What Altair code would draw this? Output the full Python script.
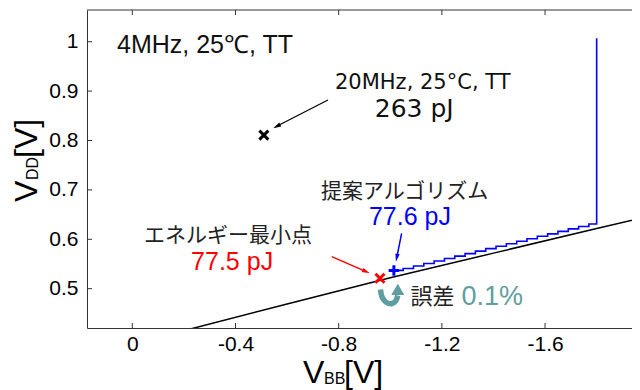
import math
import altair as alt
import pandas as pd

# ---------------- data ----------------
x_ticks = [0, -0.4, -0.8, -1.2, -1.6]
y_ticks = [0.5, 0.6, 0.7, 0.8, 0.9, 1.0]

# minimum-energy locus (black)
curve_vbb = [-0.2, -0.6, -1.0, -1.4, -1.8, -2.0]
curve_vdd = [0.415, 0.469, 0.522, 0.572, 0.622, 0.646]

# proposed algorithm search path (blue staircase)
algo_vbb = [-1.014, -1.05, -1.09, -1.13, -1.17, -1.21, -1.25, -1.29, -1.33, -1.37,
            -1.41, -1.45, -1.49, -1.53, -1.57, -1.61, -1.65, -1.69, -1.73, -1.77,
            -1.80, -1.80]
algo_vdd = [0.537, 0.541, 0.546, 0.551, 0.556, 0.561, 0.566, 0.571, 0.576, 0.581,
            0.586, 0.591, 0.596, 0.601, 0.606, 0.611, 0.616, 0.621, 0.626, 0.631,
            0.634, 1.007]

pt_20mhz = (-0.51, 0.811)
pt_min = (-0.960, 0.521)
pt_algo = (-1.014, 0.537)

# curved "error" arrow path
err_vbb = [-0.962, -0.9690, -0.9853, -1.0050, -1.0210, -1.0290]
err_vdd = [0.4984, 0.4822, 0.4721, 0.4695, 0.4751, 0.4862]
err_head = (-1.0290, 0.4984)

# ---------------- geometry ----------------
W, H = 545, 318
X_DOM = [-1.937, 0.1756]
Y_DOM = [0.4204, 1.0642]
PX = W / (X_DOM[1] - X_DOM[0])
PY = H / (Y_DOM[1] - Y_DOM[0])

xs = alt.Scale(domain=X_DOM, reverse=True, nice=False, zero=False)
ys = alt.Scale(domain=Y_DOM, nice=False, zero=False)

AX_COL = "#333333"
x_axis = alt.Axis(values=x_ticks, labelExpr="'' + datum.value", ticks=False, tickSize=0,
                  labelPadding=22, labelBaseline="alphabetic", grid=False,
                  domainColor=AX_COL, labelFont="Liberation Sans", labelFontSize=21,
                  labelColor="black", title=None)
y_axis = alt.Axis(values=y_ticks, labelExpr="'' + datum.value", ticks=False, tickSize=0,
                  labelPadding=9, grid=False, domainColor=AX_COL,
                  labelFont="Liberation Sans", labelFontSize=21, labelColor="black",
                  title=None)


def X(f):
    return alt.X(f + ":Q", scale=xs, axis=x_axis)


def Y(f):
    return alt.Y(f + ":Q", scale=ys, axis=y_axis)


layers = []

# black curve (carries axes)
curve_df = pd.DataFrame({"x": curve_vbb, "y": curve_vdd, "i": range(len(curve_vbb))})
layers.append(alt.Chart(curve_df).mark_line(color="black", strokeWidth=1.5, clip=True)
              .encode(x=X("x"), y=Y("y"), order=alt.Order("i:Q")))

# blue staircase
algo_df = pd.DataFrame({"x": algo_vbb, "y": algo_vdd, "i": range(len(algo_vbb))})
layers.append(alt.Chart(algo_df).mark_line(color="#0000ff", strokeWidth=1.6,
                                           interpolate="step-after", clip=True)
              .encode(x=X("x"), y=Y("y"), order=alt.Order("i:Q")))

# frame: top line + inward ticks
dummy = pd.DataFrame({"a": [0]})
layers.append(alt.Chart(dummy).mark_rule(color=AX_COL, strokeWidth=1)
              .encode(x=alt.value(0), x2=alt.value(W), y=alt.value(0)))
xt_df = pd.DataFrame({"x": x_ticks})
layers.append(alt.Chart(xt_df).mark_rule(color=AX_COL)
              .encode(x=X("x"), y=alt.value(H), y2=alt.value(H - 5)))
layers.append(alt.Chart(xt_df).mark_rule(color=AX_COL)
              .encode(x=X("x"), y=alt.value(0), y2=alt.value(5)))
yt_df = pd.DataFrame({"y": y_ticks})
layers.append(alt.Chart(yt_df).mark_rule(color=AX_COL)
              .encode(y=Y("y"), x=alt.value(0), x2=alt.value(5)))

# markers
X_SHAPE = "M-1,-1L1,1M-1,1L1,-1"
P_SHAPE = "M-1,0L1,0M0,-1L0,1"


def marker(pt, shape, color, size):
    df = pd.DataFrame({"x": [pt[0]], "y": [pt[1]]})
    return (alt.Chart(df).mark_point(shape=shape, filled=False, color=color, size=size,
                                     strokeWidth=3, opacity=1)
            .encode(x=X("x"), y=Y("y")))


layers.append(marker(pt_20mhz, X_SHAPE, "black", 81))
layers.append(marker(pt_min, X_SHAPE, "#ff0000", 81))
layers.append(marker(pt_algo, P_SHAPE, "#0000ff", 110))

# straight arrows
HEAD = "M0,-1L0.55,1L-0.55,1Z"


def arrow(tail, tip, color, width, head_size):
    dxp = -(tip[0] - tail[0]) * PX
    dyp = -(tip[1] - tail[1]) * PY
    L = math.hypot(dxp, dyp)
    ux, uy = dxp / L, dyp / L
    half = math.sqrt(head_size) / 2
    cx = tip[0] + ux * half / PX
    cy = tip[1] + uy * half / PY
    ang = math.degrees(math.atan2(ux, -uy)) % 360
    ldf = pd.DataFrame({"x": [tail[0], cx], "y": [tail[1], cy], "i": [0, 1]})
    hdf = pd.DataFrame({"x": [cx], "y": [cy], "a": [ang]})
    line = (alt.Chart(ldf).mark_line(color=color, strokeWidth=width)
            .encode(x=X("x"), y=Y("y"), order=alt.Order("i:Q")))
    head = (alt.Chart(hdf).mark_point(shape=HEAD, filled=True, color=color, size=head_size,
                                      opacity=1, strokeWidth=0)
            .encode(x=X("x"), y=Y("y"), angle=alt.Angle("a:Q", scale=None)))
    return [line, head]


layers += arrow((-0.7585, 0.882), (-0.546, 0.825), "black", 1.2, 64)
layers += arrow((-0.773, 0.565), (-0.921, 0.5313), "#ff0000", 1.5, 64)
layers += arrow((-1.044, 0.612), (-1.022, 0.5547), "#0000ff", 1.5, 64)

# curved teal arrow
TEAL = "#5f9ea0"
err_df = pd.DataFrame({"x": err_vbb, "y": err_vdd, "i": range(len(err_vbb))})
layers.append(alt.Chart(err_df).mark_line(color=TEAL, strokeWidth=5.5, interpolate="catmull-rom")
              .encode(x=X("x"), y=Y("y"), order=alt.Order("i:Q")))
eh_df = pd.DataFrame({"x": [err_head[0]], "y": [err_head[1]]})
layers.append(alt.Chart(eh_df).mark_point(shape="triangle-up", filled=True, color=TEAL,
                                          size=170, opacity=1, strokeWidth=0)
              .encode(x=X("x"), y=Y("y")))

# annotation texts (data coords)
labels = ["4MHz, 25℃, TT", "20MHz, 25°C, TT", "263 pJ", "エネルギー最小点", "77.5 pJ",
          "提案アルゴリズム", "77.6 pJ", "誤差", "0.1%"]
label_vbb = [0.0593, -0.7857, -0.940, -0.0453, -0.228, -0.7314, -0.9174, -1.078, -1.276]
label_vdd = [0.9777, 0.9036, 0.8476, 0.5945, 0.5379, 0.6836, 0.629, 0.469, 0.467]
label_font = ["Liberation Sans", "DejaVu Sans", "DejaVu Sans", "Noto Sans CJK JP",
              "Liberation Sans", "Noto Sans CJK JP", "Liberation Sans", "Noto Sans CJK JP",
              "Liberation Sans"]
label_size = [25, 21, 25, 21, 25, 21, 25, 22, 27]
label_color = ["#111111", "#111111", "#111111", "#222222", "#ff0000", "#222222", "#0000ff",
               "#222222", TEAL]

for t, lx, ly, f, s, c in zip(labels, label_vbb, label_vdd, label_font, label_size, label_color):
    df = pd.DataFrame({"x": [lx], "y": [ly], "t": [t]})
    layers.append(alt.Chart(df).mark_text(align="left", baseline="alphabetic", font=f,
                                          fontSize=s, color=c)
                  .encode(x=X("x"), y=Y("y"), text="t:N"))

# axis titles with subscripts (pixel positions relative to plot area)
def ptext(txt, x, y, size, angle=0):
    kw = dict(align="left", baseline="alphabetic", font="Liberation Sans",
              fontSize=size, color="black")
    if angle:
        kw["angle"] = angle
    return (alt.Chart(dummy).mark_text(**kw)
            .encode(x=alt.value(x), y=alt.value(y), text=alt.value(txt)))


layers += [ptext("V", 216, 373, 32), ptext("BB", 237, 374, 16), ptext("[V]", 257, 373, 32)]
layers += [ptext("V", -50, 192, 32, 270), ptext("DD", -49, 170, 16, 270),
           ptext("[V]", -50, 148, 32, 270)]

chart = (alt.layer(*layers)
         .properties(width=W, height=H, autosize=alt.AutoSizeParams(type="none"),
                     padding={"left": 79, "top": 2, "right": 0, "bottom": 62})
         .configure_view(stroke=None))

chart.save("out.html", embed_options={"renderer": "svg", "actions": False})
